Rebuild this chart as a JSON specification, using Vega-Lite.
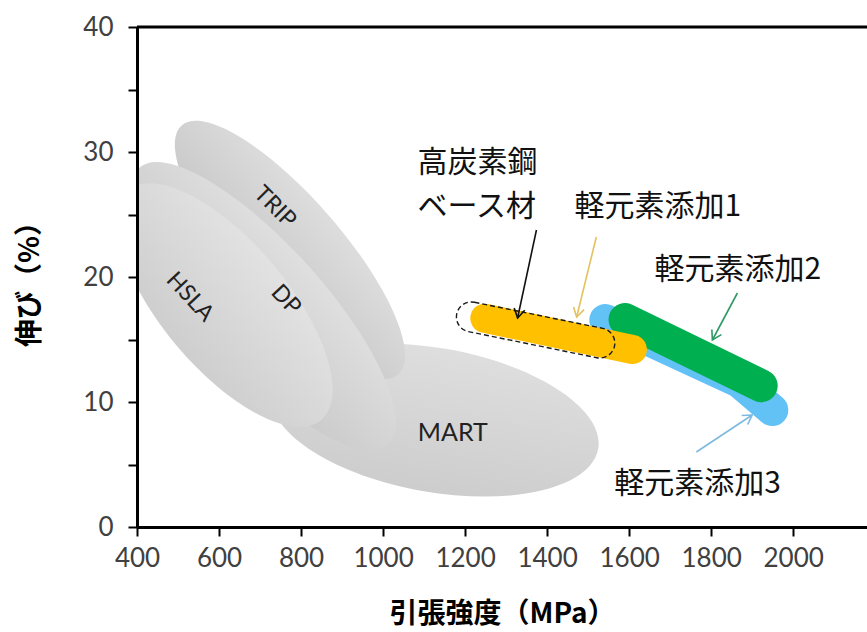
{
  "$schema": "https://vega.github.io/schema/vega-lite/v6.json",
  "width": 730,
  "height": 500,
  "autosize": {"type": "none"},
  "padding": {"left": 137, "top": 27, "right": 0, "bottom": 105},
  "background": "white",
  "config": {
    "view": {"stroke": null},
    "axis": {
      "domainColor": "#000000",
      "domainWidth": 3,
      "grid": false,
      "labelFont": "Lato",
      "labelFontSize": 26,
      "labelColor": "#404040",
      "titleFont": "Noto Sans CJK JP",
      "titleFontSize": 28,
      "titleFontWeight": "bold",
      "titleColor": "#000000"
    }
  },
  "encoding": {
    "x": {
      "field": "x",
      "type": "quantitative",
      "scale": {"domain": [400, 2180], "nice": false, "zero": false},
      "axis": {
        "title": "引張強度（MPa）",
        "values": [400, 600, 800, 1000, 1200, 1400, 1600, 1800, 2000],
        "format": "d",
        "ticks": true,
        "tickSize": 9,
        "tickColor": "#000000",
        "tickWidth": 2,
        "labelPadding": 9,
        "labelFlush": false,
        "labelOverlap": false,
        "titleX": 365,
        "titleY": 73,
        "titleBaseline": "top",
        "zindex": 1,
        "encode": {"ticks": {"update": {"y2": {"value": -9}}}}
      }
    },
    "y": {
      "field": "y",
      "type": "quantitative",
      "scale": {"domain": [0, 40], "nice": false},
      "axis": {
        "title": "伸び（%）",
        "values": [0, 5, 10, 15, 20, 25, 30, 35, 40],
        "labelExpr": "datum.value % 10 === 0 ? datum.label : ''",
        "ticks": true,
        "tickSize": 9,
        "tickColor": "#000000",
        "tickWidth": 2,
        "labelPadding": 15,
        "labelFlush": false,
        "labelOverlap": false,
        "titleX": -93,
        "titleY": 250,
        "zindex": 1,
        "encode": {"ticks": {"update": {"x2": {"value": 9}}}}
      }
    }
  },
  "layer": [
    {
      "data": {"values": [{"name": "MART", "x": 1126, "y": 8.56}]},
      "mark": {
        "type": "point", "filled": true, "clip": true, "opacity": 1,
        "shape": "M-1,0 C-1,-0.24 -0.552,-0.434 0,-0.434 C0.552,-0.434 1,-0.24 1,0 C1,0.24 0.552,0.434 0,0.434 C-0.552,0.434 -1,0.24 -1,0 Z",
        "size": 110224, "angle": 10,
        "fill": {"gradient": "linear", "x1": 0, "y1": 0, "x2": 0, "y2": 1, "stops": [{"offset": 0, "color": "#dedede"}, {"offset": 1, "color": "#cdcdcd"}]}
      }
    },
    {
      "data": {"values": [{"name": "TRIP", "x": 773, "y": 22.16}]},
      "mark": {
        "type": "point", "filled": true, "clip": true, "opacity": 1,
        "shape": "M-1,0 C-1,-0.174 -0.552,-0.315 0,-0.315 C0.552,-0.315 1,-0.174 1,0 C1,0.174 0.552,0.315 0,0.315 C-0.552,0.315 -1,0.174 -1,0 Z",
        "size": 108900, "angle": 49,
        "fill": {"gradient": "linear", "x1": 0, "y1": 0, "x2": 0, "y2": 1, "stops": [{"offset": 0, "color": "#dddddd"}, {"offset": 1, "color": "#c6c6c6"}]}
      }
    },
    {
      "data": {"values": [{"name": "DP", "x": 709, "y": 17.68}]},
      "mark": {
        "type": "point", "filled": true, "clip": true, "opacity": 1,
        "shape": "M-1,0 C-1,-0.178 -0.552,-0.323 0,-0.323 C0.552,-0.323 1,-0.178 1,0 C1,0.178 0.552,0.323 0,0.323 C-0.552,0.323 -1,0.178 -1,0 Z",
        "size": 138384, "angle": 48,
        "fill": {"gradient": "linear", "x1": 0, "y1": 0, "x2": 0, "y2": 1, "stops": [{"offset": 0, "color": "#dfdfdf"}, {"offset": 1, "color": "#c9c9c9"}]}
      }
    },
    {
      "data": {"values": [{"name": "HSLA", "x": 614, "y": 17.76}]},
      "mark": {
        "type": "point", "filled": true, "clip": true, "opacity": 1,
        "shape": "M-1,0 C-1,-0.232 -0.552,-0.42 0,-0.42 C0.552,-0.42 1,-0.232 1,0 C1,0.232 0.552,0.42 0,0.42 C-0.552,0.42 -1,0.232 -1,0 Z",
        "size": 90000, "angle": 50,
        "fill": {"gradient": "linear", "x1": 0, "y1": 0, "x2": 0, "y2": 1, "stops": [{"offset": 0, "color": "#e2e2e2"}, {"offset": 1, "color": "#cecece"}]}
      }
    },
    {
      "data": {"values": [{"label": "TRIP", "x": 736, "y": 25.6}]},
      "mark": {"type": "text", "font": "Lato", "fontSize": 23, "color": "#222222", "angle": 45, "align": "center", "baseline": "middle"},
      "encoding": {"text": {"field": "label"}}
    },
    {
      "data": {"values": [{"label": "DP", "x": 763, "y": 18.16}]},
      "mark": {"type": "text", "font": "Lato", "fontSize": 23, "color": "#222222", "angle": 47, "align": "center", "baseline": "middle"},
      "encoding": {"text": {"field": "label"}}
    },
    {
      "data": {"values": [{"label": "HSLA", "x": 529, "y": 18.4}]},
      "mark": {"type": "text", "font": "Lato", "fontSize": 23, "color": "#222222", "angle": 47, "align": "center", "baseline": "middle"},
      "encoding": {"text": {"field": "label"}}
    },
    {
      "data": {"values": [{"label": "MART", "x": 1170, "y": 7.52}]},
      "mark": {"type": "text", "font": "Lato", "fontSize": 25, "color": "#222222", "align": "center", "baseline": "middle"},
      "encoding": {"text": {"field": "label"}}
    },
    {
      "data": {"values": [
        {"series": "軽元素添加3", "x": 1542, "y": 16.56},
        {"series": "軽元素添加3", "x": 1869, "y": 11.6},
        {"series": "軽元素添加3", "x": 1949, "y": 9.36}
      ]},
      "mark": {"type": "line", "color": "#62c1f5", "strokeWidth": 32, "strokeCap": "round", "strokeJoin": "round"}
    },
    {
      "data": {"values": [{"series": "軽元素添加2", "x": 1590, "y": 16.6}, {"series": "軽元素添加2", "x": 1922, "y": 11.3}]},
      "mark": {"type": "line", "color": "#00b050", "strokeWidth": 33, "strokeCap": "round"}
    },
    {
      "data": {"values": [{"series": "軽元素添加1", "x": 1248, "y": 16.7}, {"series": "軽元素添加1", "x": 1608, "y": 14.2}]},
      "mark": {"type": "line", "color": "#ffc000", "strokeWidth": 29, "strokeCap": "round"}
    },
    {
      "data": {"values": [{"name": "高炭素鋼ベース材", "x": 1372, "y": 15.76}]},
      "mark": {
        "type": "point", "filled": false, "opacity": 1,
        "shape": "M-0.814,-0.186 L0.814,-0.186 C0.917,-0.186 1,-0.103 1,0 C1,0.103 0.917,0.186 0.814,0.186 L-0.814,0.186 C-0.917,0.186 -1,0.103 -1,0 C-1,-0.103 -0.917,-0.186 -0.814,-0.186 Z",
        "size": 25921, "angle": 11.5,
        "stroke": "#1a1a1a", "strokeWidth": 1.4, "strokeDash": [5, 3]
      }
    },
    {
      "data": {"values": [
        {"name": "base", "x": 1374, "y": 23.76, "x2": 1328, "y2": 16.72},
        {"name": "l1", "x": 1520, "y": 23.2, "x2": 1472, "y2": 16.8},
        {"name": "l2", "x": 1864, "y": 18.72, "x2": 1803, "y2": 14.96},
        {"name": "l3", "x": 1764, "y": 6.0, "x2": 1900, "y2": 8.96}
      ]},
      "mark": {"type": "rule", "strokeWidth": 1.6},
      "encoding": {
        "x2": {"field": "x2"},
        "y2": {"field": "y2"},
        "color": {"field": "name", "type": "nominal", "legend": null,
          "scale": {"domain": ["base", "l1", "l2", "l3"], "range": ["#111111", "#e3c25e", "#2f9a66", "#7db9e0"]}}
      }
    },
    {
      "data": {"values": [{"x": 1328, "y": 16.72}]},
      "mark": {"type": "point", "filled": false, "opacity": 1, "shape": "M-1,-0.6 L0,0 L-1,0.6", "size": 324, "angle": 102, "stroke": "#111111", "strokeWidth": 1.6}
    },
    {
      "data": {"values": [{"x": 1472, "y": 16.8}]},
      "mark": {"type": "point", "filled": false, "opacity": 1, "shape": "M-1,-0.6 L0,0 L-1,0.6", "size": 324, "angle": 104, "stroke": "#e3c25e", "strokeWidth": 1.6}
    },
    {
      "data": {"values": [{"x": 1803, "y": 14.96}]},
      "mark": {"type": "point", "filled": false, "opacity": 1, "shape": "M-1,-0.6 L0,0 L-1,0.6", "size": 324, "angle": 118, "stroke": "#2f9a66", "strokeWidth": 1.6}
    },
    {
      "data": {"values": [{"x": 1900, "y": 8.96}]},
      "mark": {"type": "point", "filled": false, "opacity": 1, "shape": "M-1,-0.6 L0,0 L-1,0.6", "size": 324, "angle": -33.5, "stroke": "#7db9e0", "strokeWidth": 1.6}
    },
    {
      "data": {"values": [
        {"text": "高炭素鋼", "x": 1084, "y": 29.1},
        {"text": "ベース材", "x": 1084, "y": 25.6},
        {"text": "軽元素添加1", "x": 1467, "y": 25.6},
        {"text": "軽元素添加2", "x": 1662, "y": 20.56},
        {"text": "軽元素添加3", "x": 1564, "y": 3.44}
      ]},
      "mark": {"type": "text", "font": "Noto Sans CJK JP", "fontSize": 30, "color": "#111111", "align": "left", "baseline": "middle"},
      "encoding": {"text": {"field": "text"}}
    },
    {
      "data": {"values": [{"y": 40}]},
      "mark": {"type": "rule", "color": "#000000", "strokeWidth": 3},
      "encoding": {"x": null}
    }
  ]
}
